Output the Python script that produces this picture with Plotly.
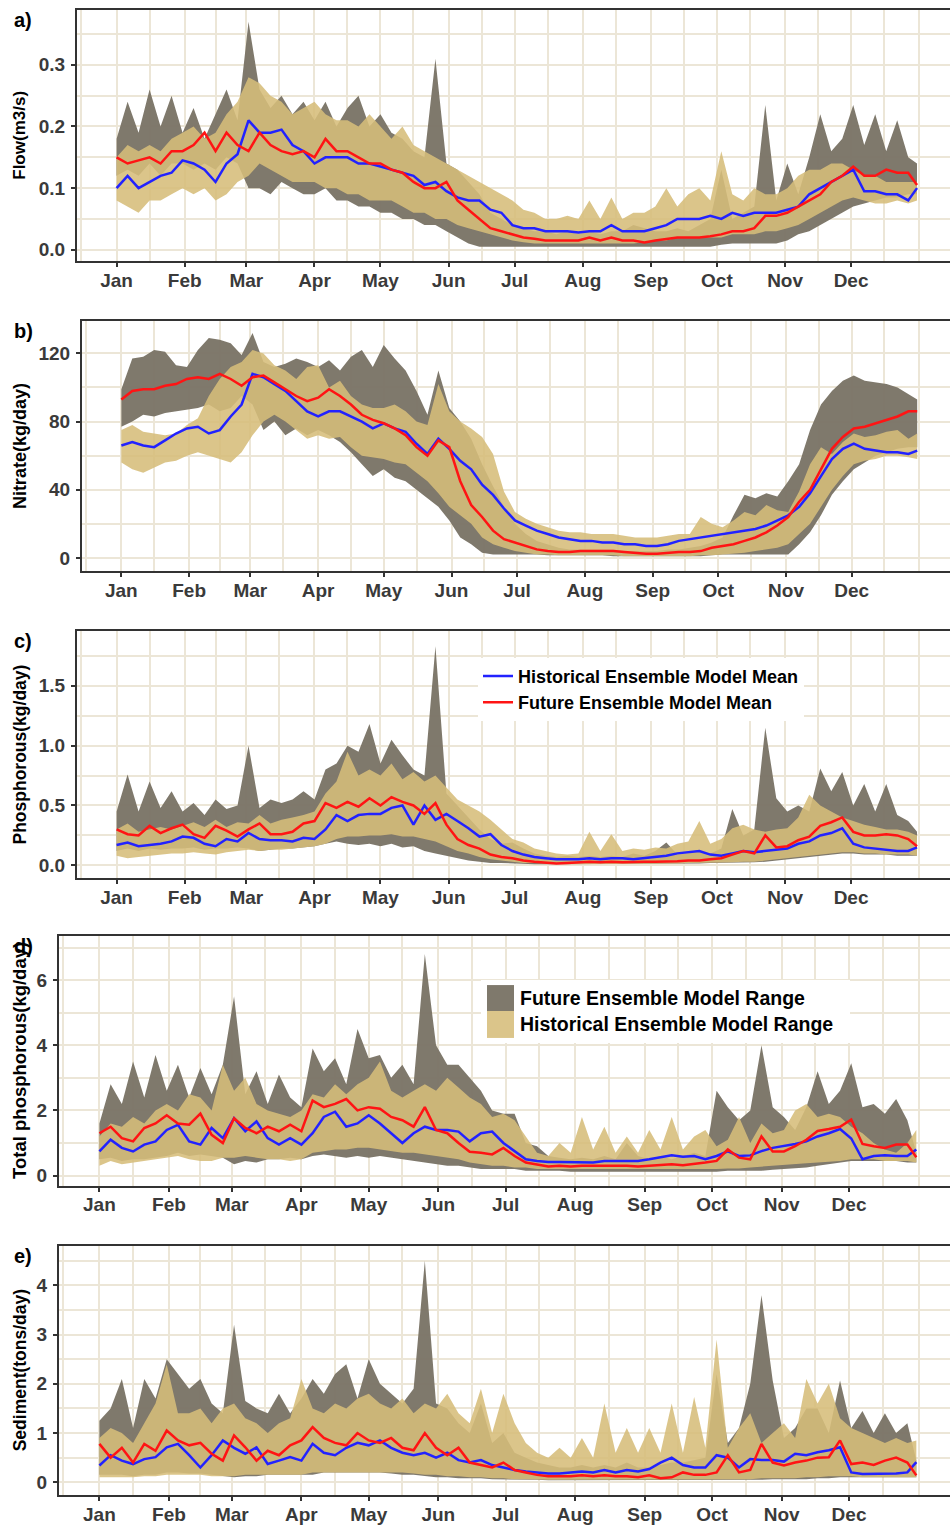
import plotly.graph_objects as go

# ---------------- data (day-of-year samples) ----------------
DAYS = [1, 6, 11, 16, 21, 26, 31, 36, 41, 46, 51, 56, 61, 66, 71, 76, 81, 86,
        91, 96, 101, 106, 111, 116, 121, 126, 131, 136, 141, 146, 151, 156, 161, 166, 171, 176,
        181, 186, 191, 196, 201, 206, 211, 216, 221, 226, 231, 236, 241, 246, 251, 256, 261, 266,
        271, 276, 281, 286, 291, 296, 301, 306, 311, 316, 321, 326, 331, 336, 341, 346, 351, 356,
        361, 365]
MONTH_STARTS = [1, 32, 60, 91, 121, 152, 182, 213, 244, 274, 305, 335]
MONTH_LABELS = ["Jan", "Feb", "Mar", "Apr", "May", "Jun", "Jul", "Aug", "Sep", "Oct", "Nov", "Dec"]

# a) Flow (m3/s)
FLOW_FUT_UP = [0.18,0.24,0.19,0.26,0.20,0.25, 0.19,0.23,0.18,0.22,0.26,0.21, 0.37,0.26,0.23,0.25,0.22,0.24,
               0.21,0.24,0.20,0.23,0.25,0.20, 0.22,0.19,0.18,0.16,0.15,0.31, 0.14,0.13,0.11,0.09,0.06,0.05,
               0.04,0.035,0.03,0.03,0.025,0.03, 0.025,0.03,0.025,0.03,0.03,0.04, 0.035,0.03,0.03,0.035,0.03,0.04,
               0.05,0.13,0.05,0.06,0.07,0.235, 0.08,0.14,0.09,0.15,0.22,0.16, 0.18,0.235,0.17,0.22,0.16,0.21,
               0.15,0.14]
FLOW_FUT_LO = [0.12,0.13,0.12,0.14,0.12,0.14, 0.14,0.13,0.14,0.13,0.15,0.14, 0.10,0.10,0.09,0.11,0.10,0.09,
               0.09,0.10,0.08,0.08,0.07,0.07, 0.06,0.06,0.05,0.05,0.04,0.04, 0.03,0.02,0.01,0.005,0.005,0.005,
               0.005,0.005,0.005,0.004,0.004,0.004, 0.004,0.004,0.004,0.004,0.004,0.004, 0.004,0.004,0.005,0.005,0.005,0.005,
               0.005,0.008,0.01,0.01,0.01,0.01, 0.01,0.015,0.025,0.03,0.04,0.05, 0.06,0.07,0.075,0.08,0.085,0.085,
               0.09,0.09]
FLOW_HIST_UP = [0.15,0.17,0.16,0.17,0.16,0.18, 0.19,0.20,0.18,0.19,0.22,0.24, 0.28,0.27,0.25,0.24,0.22,0.23,
                0.24,0.22,0.21,0.21,0.20,0.22, 0.20,0.18,0.20,0.17,0.16,0.15, 0.14,0.13,0.12,0.11,0.10,0.09,
                0.08,0.065,0.06,0.05,0.05,0.055, 0.05,0.08,0.05,0.085,0.05,0.06, 0.06,0.07,0.10,0.07,0.09,0.10,
                0.08,0.16,0.09,0.08,0.10,0.09, 0.09,0.10,0.12,0.13,0.13,0.14, 0.14,0.13,0.12,0.12,0.11,0.11,
                0.11,0.11]
FLOW_HIST_LO = [0.08,0.07,0.06,0.08,0.08,0.09, 0.10,0.09,0.10,0.08,0.09,0.11, 0.12,0.14,0.13,0.12,0.11,0.11,
                0.11,0.10,0.10,0.09,0.09,0.08, 0.08,0.08,0.07,0.06,0.06,0.05, 0.05,0.04,0.035,0.03,0.025,0.02,
                0.015,0.012,0.01,0.01,0.01,0.01, 0.01,0.01,0.01,0.01,0.01,0.01, 0.012,0.015,0.015,0.02,0.02,0.02,
                0.02,0.02,0.025,0.025,0.025,0.03, 0.03,0.035,0.04,0.05,0.06,0.07, 0.08,0.085,0.08,0.075,0.075,0.08,
                0.075,0.08]
FLOW_HIST_MEAN = [0.10,0.12,0.10,0.11,0.12,0.125, 0.145,0.14,0.13,0.11,0.14,0.155, 0.21,0.19,0.19,0.195,0.17,0.16,
                  0.14,0.15,0.15,0.15,0.14,0.14, 0.135,0.13,0.125,0.12,0.105,0.11, 0.095,0.085,0.08,0.08,0.065,0.06,
                  0.04,0.035,0.035,0.03,0.03,0.03, 0.028,0.03,0.03,0.04,0.03,0.03, 0.03,0.035,0.04,0.05,0.05,0.05,
                  0.055,0.05,0.06,0.055,0.06,0.06, 0.06,0.065,0.07,0.09,0.10,0.11, 0.12,0.13,0.095,0.095,0.09,0.09,
                  0.08,0.10]
FLOW_FUT_MEAN = [0.15,0.14,0.145,0.15,0.14,0.16, 0.16,0.17,0.19,0.16,0.19,0.17, 0.16,0.19,0.17,0.16,0.155,0.16,
                 0.15,0.18,0.16,0.16,0.15,0.14, 0.14,0.13,0.125,0.11,0.10,0.10, 0.11,0.08,0.065,0.05,0.035,0.03,
                 0.025,0.02,0.018,0.015,0.015,0.015, 0.015,0.02,0.015,0.02,0.015,0.015, 0.012,0.015,0.017,0.02,0.02,0.02,
                 0.022,0.025,0.03,0.03,0.035,0.055, 0.055,0.06,0.07,0.08,0.09,0.11, 0.12,0.135,0.12,0.12,0.13,0.125,
                 0.125,0.105]

# b) Nitrate (kg/day)
NIT_FUT_UP = [99,117,118,122,121,113, 112,122,129,128,126,119, 132,115,112,114,117,115,
              112,116,110,118,122,112, 125,117,110,98,84,110, 88,80,70,55,42,30,
              20,14,10,8,6,5, 5,5,5,5,4,4, 4,4,5,5,6,7,
              9,12,25,37,35,38, 36,45,55,75,90,98, 104,107,104,103,102,100,
              96,93]
NIT_FUT_LO = [77,80,84,83,85,86, 87,88,90,86,88,95, 90,75,80,72,76,72,
              75,72,68,62,55,48, 52,47,45,40,35,30, 22,12,8,3,2,2,
              2,2,2,1.5,1.5,1.5, 1.5,1.5,1.5,1,1,1, 1,1,1,1,1,1,
              1.5,2,2,2,2,2, 2,2,8,15,25,37, 45,52,56,60,62,64,
              65,65]
NIT_HIST_UP = [75,78,74,73,72,73, 78,82,95,105,112,115, 122,120,113,110,105,112,
               113,100,104,95,90,88, 88,90,86,80,78,102, 86,80,76,71,61,39,
               27,23,20,18,16,15, 15,14,14,14,13,12, 12,12,13,14,14,24,
               20,18,22,27,25,31, 28,27,39,55,65,61, 68,73,71,72,74,75,
               70,73]
NIT_HIST_LO = [56,52,50,53,56,57, 60,62,60,58,56,62, 72,80,84,80,75,70,
               72,70,71,65,60,59, 58,56,55,50,45,38, 30,25,20,12,8,6,
               4,3,2,2,1.5,1.5, 1.5,1.5,1.5,1.5,1,1, 1,1,1,1,1,1.5,
               1.5,2,2.5,3,4,5, 6,8,14,20,30,40, 48,55,57,58,60,60,
               59,58]
NIT_HIST_MEAN = [66,68,66,65,69,73, 76,77,73,75,83,90, 108,106,102,98,92,86,
                 83,86,86,83,80,76, 79,76,74,67,61,70, 64,57,52,43,37,29,
                 22,19,16,14,12,11, 10,10,9,9,8,8, 7,7,8,10,11,12,
                 13,14,15,16,17,19, 22,25,30,38,48,58, 64,67,64,63,62,62,
                 61,63]
NIT_FUT_MEAN = [93,98,99,99,101,102, 105,106,105,108,105,101, 106,107,103,99,95,92,
                94,99,95,90,84,81, 79,76,72,65,60,69, 65,45,31,24,16,11,
                9,7,5,4,3.5,3.5, 4,4,4,4,3.5,3, 2.5,2.5,3,3.5,3.5,4,
                6,7,8,10,12,15, 19,24,33,40,52,64, 71,76,77,79,81,83,
                86,86]

# c) Phosphorous (kg/day)
PHO_FUT_UP = [0.45,0.76,0.45,0.70,0.48,0.62, 0.45,0.52,0.42,0.55,0.47,0.50, 1.00,0.48,0.55,0.52,0.55,0.62,
              0.55,0.80,0.85,1.00,0.95,1.18, 0.85,1.05,0.92,0.80,0.75,1.83, 0.60,0.50,0.40,0.30,0.22,0.18,
              0.19,0.14,0.10,0.08,0.07,0.08, 0.07,0.08,0.07,0.08,0.07,0.10, 0.08,0.12,0.19,0.09,0.10,0.12,
              0.10,0.14,0.47,0.25,0.30,1.15, 0.56,0.45,0.50,0.45,0.81,0.62, 0.78,0.50,0.68,0.45,0.68,0.42,
              0.37,0.28]
PHO_FUT_LO = [0.12,0.14,0.12,0.14,0.13,0.14, 0.14,0.15,0.13,0.14,0.14,0.15, 0.14,0.12,0.13,0.14,0.14,0.15,
              0.16,0.18,0.20,0.18,0.17,0.18, 0.16,0.18,0.15,0.16,0.12,0.10, 0.08,0.06,0.04,0.03,0.02,0.02,
              0.015,0.01,0.01,0.01,0.01,0.01, 0.01,0.01,0.01,0.01,0.01,0.01, 0.01,0.01,0.015,0.015,0.015,0.015,
              0.02,0.02,0.02,0.02,0.025,0.03, 0.04,0.05,0.06,0.07,0.08,0.09, 0.10,0.10,0.09,0.09,0.09,0.08,
              0.08,0.08]
PHO_HIST_UP = [0.30,0.35,0.28,0.30,0.32,0.30, 0.33,0.36,0.32,0.38,0.32,0.36, 0.35,0.42,0.35,0.38,0.40,0.42,
               0.45,0.60,0.70,0.95,0.75,0.80, 0.75,0.85,0.72,0.78,0.70,0.75, 0.65,0.55,0.50,0.45,0.38,0.30,
               0.22,0.19,0.14,0.12,0.10,0.09, 0.10,0.28,0.12,0.26,0.12,0.14, 0.13,0.15,0.14,0.18,0.20,0.37,
               0.18,0.22,0.31,0.34,0.30,0.28, 0.30,0.31,0.40,0.59,0.50,0.45, 0.40,0.37,0.34,0.32,0.30,0.30,
               0.28,0.25]
PHO_HIST_LO = [0.08,0.06,0.07,0.08,0.09,0.10, 0.10,0.11,0.10,0.09,0.11,0.12, 0.13,0.12,0.13,0.13,0.14,0.15,
               0.16,0.18,0.22,0.24,0.24,0.25, 0.25,0.26,0.24,0.24,0.22,0.20, 0.16,0.12,0.10,0.07,0.05,0.04,
               0.03,0.02,0.02,0.015,0.01,0.01, 0.01,0.01,0.01,0.01,0.01,0.01, 0.01,0.015,0.015,0.015,0.02,0.02,
               0.02,0.02,0.025,0.03,0.03,0.04, 0.05,0.06,0.07,0.08,0.09,0.10, 0.11,0.11,0.10,0.10,0.09,0.09,
               0.09,0.08]
PHO_HIST_MEAN = [0.17,0.19,0.16,0.17,0.18,0.20, 0.24,0.23,0.18,0.16,0.22,0.20, 0.27,0.22,0.21,0.21,0.20,0.23,
                 0.22,0.30,0.42,0.37,0.42,0.43, 0.43,0.48,0.50,0.34,0.50,0.38, 0.43,0.37,0.31,0.24,0.26,0.17,
                 0.12,0.09,0.07,0.06,0.05,0.05, 0.05,0.06,0.05,0.06,0.06,0.05, 0.06,0.07,0.08,0.10,0.11,0.12,
                 0.09,0.08,0.10,0.12,0.11,0.12, 0.13,0.14,0.18,0.20,0.25,0.27, 0.31,0.18,0.15,0.14,0.13,0.12,
                 0.12,0.15]
PHO_FUT_MEAN = [0.30,0.26,0.25,0.33,0.27,0.31, 0.34,0.26,0.23,0.33,0.29,0.24, 0.30,0.35,0.26,0.26,0.28,0.35,
                0.37,0.52,0.48,0.53,0.49,0.56, 0.50,0.57,0.53,0.50,0.43,0.52, 0.34,0.22,0.17,0.14,0.09,0.07,
                0.06,0.04,0.03,0.02,0.015,0.02, 0.025,0.03,0.025,0.03,0.025,0.03, 0.03,0.03,0.03,0.035,0.04,0.04,
                0.05,0.06,0.09,0.12,0.10,0.25, 0.15,0.16,0.21,0.24,0.33,0.36, 0.40,0.28,0.25,0.25,0.26,0.25,
                0.22,0.16]

# d) Total phosphorous (kg/day)
TP_FUT_UP = [1.6,2.8,2.2,3.5,2.4,3.7, 2.6,3.4,2.4,3.3,2.5,3.4, 5.5,2.5,3.2,2.2,3.1,2.4,
             2.1,3.9,3.2,3.6,2.8,4.5, 3.6,3.7,3.0,3.4,2.8,6.8, 4.0,3.4,3.4,3.0,2.6,2.0,
             1.9,1.9,1.0,0.9,0.6,0.55, 0.5,0.55,0.5,0.6,0.5,1.0, 0.6,0.5,0.6,0.5,0.6,0.7,
             0.6,2.6,2.1,1.7,2.0,4.0, 2.1,1.8,1.4,2.1,3.2,2.2, 2.6,3.45,2.1,2.2,1.9,2.35,
             1.7,0.7]
TP_FUT_LO = [0.5,0.55,0.45,0.5,0.5,0.55, 0.6,0.7,0.6,0.65,0.6,0.55, 0.35,0.45,0.4,0.5,0.5,0.55,
             0.5,0.6,0.65,0.6,0.55,0.6, 0.55,0.6,0.55,0.5,0.45,0.4, 0.35,0.3,0.3,0.25,0.2,0.2,
             0.2,0.2,0.15,0.15,0.15,0.15, 0.12,0.12,0.12,0.12,0.12,0.12, 0.12,0.12,0.12,0.12,0.12,0.12,
             0.12,0.12,0.15,0.15,0.15,0.15, 0.18,0.2,0.22,0.25,0.3,0.35, 0.4,0.45,0.45,0.45,0.45,0.45,
             0.4,0.4]
TP_HIST_UP = [1.2,1.6,1.5,1.8,1.6,2.0, 2.2,2.0,2.5,2.4,2.0,3.4, 2.6,3.0,2.2,2.0,1.9,1.8,
              2.0,2.5,2.4,2.8,2.5,2.8, 3.0,3.5,2.6,2.4,2.6,2.8, 2.6,3.0,2.7,2.4,2.2,1.8,
              1.9,1.7,1.2,0.7,0.6,1.0, 0.7,1.8,0.8,1.5,0.7,1.2, 0.7,1.4,0.8,1.8,0.8,1.2,
              1.4,0.9,1.1,1.8,1.0,1.6, 1.3,1.4,2.0,2.2,1.8,1.9, 1.8,1.5,1.3,1.0,0.8,0.7,
              1.0,1.4]
TP_HIST_LO = [0.3,0.45,0.35,0.4,0.45,0.5, 0.55,0.6,0.5,0.45,0.45,0.55, 0.55,0.6,0.55,0.5,0.5,0.45,
              0.5,0.7,0.75,0.8,0.8,0.85, 0.85,0.8,0.75,0.7,0.7,0.65, 0.6,0.55,0.5,0.4,0.35,0.3,
              0.3,0.25,0.25,0.2,0.2,0.2, 0.18,0.18,0.18,0.18,0.18,0.18, 0.18,0.18,0.18,0.18,0.18,0.2,
              0.2,0.2,0.22,0.22,0.25,0.28, 0.3,0.32,0.35,0.38,0.4,0.42, 0.45,0.5,0.5,0.5,0.45,0.45,
              0.45,0.4]
TP_HIST_MEAN = [0.74,1.1,0.85,0.74,0.95,1.05, 1.4,1.56,1.05,0.95,1.46,1.15, 1.76,1.36,1.66,1.15,0.95,1.15,
                0.95,1.3,1.8,1.96,1.5,1.6, 1.85,1.6,1.3,1.0,1.3,1.5, 1.4,1.4,1.35,1.05,1.3,1.35,
                1.0,0.74,0.5,0.45,0.42,0.42, 0.42,0.4,0.4,0.45,0.45,0.45, 0.45,0.5,0.55,0.62,0.58,0.6,
                0.5,0.6,0.74,0.6,0.62,0.75, 0.85,0.9,0.97,1.05,1.2,1.3, 1.43,1.14,0.5,0.6,0.62,0.6,
                0.6,0.8]
TP_FUT_MEAN = [1.3,1.5,1.15,1.05,1.46,1.6, 1.85,1.6,1.56,1.9,1.25,1.0, 1.76,1.46,1.3,1.5,1.36,1.56,
               1.36,2.3,2.1,2.2,2.35,2.0, 2.1,2.05,1.8,1.7,1.5,2.1, 1.4,1.3,1.0,0.73,0.7,0.65,
               0.85,0.6,0.4,0.35,0.28,0.3, 0.28,0.3,0.3,0.32,0.32,0.3, 0.28,0.3,0.32,0.35,0.32,0.35,
               0.4,0.45,0.8,0.55,0.5,1.2, 0.74,0.74,0.9,1.1,1.37,1.43, 1.5,1.72,0.97,0.9,0.85,0.95,
               0.95,0.56]

# e) Sediment (tons/day)
SED_FUT_UP = [1.25,1.5,2.1,1.1,2.1,1.7, 2.5,2.2,1.9,2.1,1.6,1.4, 3.2,1.65,1.5,1.4,1.8,1.4,
              1.7,2.1,1.8,2.2,2.4,1.7, 2.5,2.0,1.8,1.6,1.9,4.5, 1.6,1.5,1.2,1.0,1.6,0.8,
              1.0,0.6,0.5,0.4,0.35,0.3, 0.3,0.35,0.3,0.35,0.3,0.4, 0.3,0.3,0.35,0.4,0.4,0.45,
              0.5,2.2,0.8,1.1,2.0,3.8, 2.07,0.9,1.1,1.5,1.5,1.0, 2.07,1.1,1.45,1.0,1.4,1.0,
              1.2,0.44]
SED_FUT_LO = [0.15,0.15,0.15,0.12,0.15,0.15, 0.2,0.2,0.18,0.18,0.15,0.12, 0.1,0.12,0.12,0.15,0.15,0.15,
              0.15,0.15,0.2,0.2,0.2,0.2, 0.2,0.2,0.18,0.15,0.15,0.12, 0.1,0.1,0.08,0.08,0.08,0.06,
              0.06,0.05,0.05,0.05,0.04,0.04, 0.04,0.04,0.04,0.04,0.04,0.04, 0.04,0.04,0.04,0.04,0.04,0.04,
              0.05,0.05,0.05,0.05,0.05,0.05, 0.06,0.06,0.06,0.06,0.08,0.08, 0.1,0.1,0.1,0.1,0.1,0.1,
              0.1,0.1]
SED_HIST_UP = [0.9,1.1,1.0,0.8,1.2,1.6, 2.4,1.4,1.4,1.5,1.2,1.5, 1.6,1.3,1.2,1.0,1.2,1.3,
               2.1,1.5,1.4,1.6,1.5,1.7, 1.8,1.6,1.5,1.7,1.4,1.6, 1.5,1.8,1.4,1.2,1.9,1.0,
               1.8,1.2,0.8,0.6,0.5,0.7, 0.5,0.9,0.5,1.6,0.6,1.1, 0.6,1.1,0.6,1.6,0.6,1.73,
               0.7,2.9,0.7,1.1,1.4,0.8, 1.0,1.2,0.9,2.1,1.6,2.0, 1.3,1.1,1.0,0.9,0.8,0.9,
               0.8,0.85]
SED_HIST_LO = [0.1,0.1,0.1,0.1,0.12,0.12, 0.15,0.15,0.15,0.15,0.12,0.12, 0.12,0.15,0.15,0.15,0.15,0.15,
               0.15,0.2,0.2,0.2,0.2,0.2, 0.2,0.2,0.2,0.2,0.18,0.15, 0.15,0.12,0.12,0.1,0.1,0.08,
               0.08,0.06,0.06,0.05,0.05,0.05, 0.05,0.05,0.05,0.05,0.05,0.05, 0.05,0.05,0.05,0.05,0.05,0.05,
               0.06,0.06,0.06,0.06,0.06,0.08, 0.08,0.08,0.08,0.1,0.1,0.12, 0.12,0.12,0.1,0.1,0.1,0.1,
               0.1,0.1]
SED_HIST_MEAN = [0.34,0.55,0.44,0.37,0.47,0.51, 0.71,0.78,0.55,0.3,0.55,0.85, 0.7,0.58,0.71,0.37,0.44,0.51,
                 0.44,0.78,0.6,0.55,0.7,0.8, 0.75,0.85,0.7,0.6,0.55,0.6, 0.5,0.6,0.45,0.4,0.45,0.35,
                 0.3,0.25,0.22,0.2,0.18,0.18, 0.2,0.22,0.2,0.25,0.2,0.25, 0.22,0.27,0.4,0.5,0.35,0.3,
                 0.3,0.55,0.5,0.3,0.47,0.45, 0.45,0.42,0.58,0.55,0.61,0.65, 0.71,0.2,0.17,0.17,0.17,0.18,
                 0.2,0.41]
SED_FUT_MEAN = [0.78,0.5,0.7,0.4,0.78,0.64, 1.05,0.85,0.75,0.8,0.58,0.44, 0.95,0.71,0.44,0.64,0.55,0.75,
                0.85,1.12,0.9,0.8,0.75,1.0, 0.85,0.8,0.9,0.7,0.65,1.0, 0.7,0.55,0.7,0.4,0.35,0.3,
                0.4,0.25,0.2,0.15,0.12,0.12, 0.12,0.14,0.12,0.14,0.12,0.12, 0.1,0.14,0.08,0.1,0.2,0.15,
                0.15,0.2,0.55,0.2,0.25,0.78, 0.4,0.34,0.4,0.44,0.5,0.51, 0.85,0.37,0.4,0.35,0.44,0.5,
                0.4,0.14]

# ---------------- styling / layout ----------------
W, H = 950, 1525
FONT = "Liberation Sans, Arial, sans-serif"
GRAY = "rgba(122,116,102,0.96)"
TAN = "rgba(214,189,122,0.88)"
BLUE = "#2222ff"
RED = "#ff1414"
GRID = "#ece6d7"
AXIS = "#333333"

X_MINOR = [-15, 16, 46, 75, 106, 136, 167, 197, 228, 259, 289, 320, 350, 366, 381]

panels = [
    dict(label="a)", title="Flow(m3/s)", tsize=17, px=(77, 10, 950, 262), yr=[-0.019, 0.389],
         yt=[0, 0.1, 0.2, 0.3], ytt=["0.0", "0.1", "0.2", "0.3"], ym=[0.05, 0.15, 0.25, 0.35],
         s=(FLOW_FUT_UP, FLOW_FUT_LO, FLOW_HIST_UP, FLOW_HIST_LO, FLOW_HIST_MEAN, FLOW_FUT_MEAN)),
    dict(label="b)", title="Nitrate(kg/day)", tsize=18, px=(82, 322, 950, 572), yr=[-7.6, 138.8],
         yt=[0, 40, 80, 120], ytt=["0", "40", "80", "120"], ym=[20, 60, 100],
         s=(NIT_FUT_UP, NIT_FUT_LO, NIT_HIST_UP, NIT_HIST_LO, NIT_HIST_MEAN, NIT_FUT_MEAN)),
    dict(label="c)", title="Phosphorous(kg/day)", tsize=17.5, px=(77, 632, 950, 880), yr=[-0.108, 1.96],
         yt=[0, 0.5, 1.0, 1.5], ytt=["0.0", "0.5", "1.0", "1.5"], ym=[0.25, 0.75, 1.25, 1.75],
         s=(PHO_FUT_UP, PHO_FUT_LO, PHO_HIST_UP, PHO_HIST_LO, PHO_HIST_MEAN, PHO_FUT_MEAN)),
    dict(label="d)", title="Total phosphorous(kg/day)", tsize=18.5, px=(59, 938, 950, 1188), yr=[-0.31, 7.35],
         yt=[0, 2, 4, 6], ytt=["0", "2", "4", "6"], ym=[1, 3, 5, 7],
         s=(TP_FUT_UP, TP_FUT_LO, TP_HIST_UP, TP_HIST_LO, TP_HIST_MEAN, TP_FUT_MEAN)),
    dict(label="e)", title="Sediment(tons/day)", tsize=17.5, px=(59, 1248, 950, 1498), yr=[-0.26, 4.81],
         yt=[0, 1, 2, 3, 4], ytt=["0", "1", "2", "3", "4"], ym=[0.5, 1.5, 2.5, 3.5, 4.5],
         s=(SED_FUT_UP, SED_FUT_LO, SED_HIST_UP, SED_HIST_LO, SED_HIST_MEAN, SED_FUT_MEAN)),
]


def px2x(v):
    return v / W


def px2y(v):
    return 1 - v / H


fig = go.Figure()
layout = dict(width=W, height=H, margin=dict(l=0, r=0, t=0, b=0), autosize=False,
              paper_bgcolor="white", plot_bgcolor="white", font=dict(family=FONT),
              annotations=[], shapes=[])

tickfont = dict(family=FONT, size=19, color="#3a3a3a", weight="bold")

for i, p in enumerate(panels, start=1):
    xs = "x" if i == 1 else f"x{i}"
    ys = "y" if i == 1 else f"y{i}"
    fu, fl, hu, hl, hm, fm = p["s"]
    show = (i == 3)
    common = dict(x=DAYS, xaxis=xs, yaxis=ys, hoverinfo="skip")
    fig.add_trace(go.Scatter(y=fl, mode="lines", line=dict(width=0, color=GRAY), showlegend=False, **common))
    fig.add_trace(go.Scatter(y=fu, mode="lines", line=dict(width=0, color=GRAY), fill="tonexty",
                             fillcolor=GRAY, showlegend=False, **common))
    fig.add_trace(go.Scatter(y=hl, mode="lines", line=dict(width=0, color=TAN), showlegend=False, **common))
    fig.add_trace(go.Scatter(y=hu, mode="lines", line=dict(width=0, color=TAN), fill="tonexty",
                             fillcolor=TAN, showlegend=False, **common))
    fig.add_trace(go.Scatter(y=hm, mode="lines", line=dict(width=2.5, color=BLUE),
                             name="Historical Ensemble Model Mean", showlegend=show, **common))
    fig.add_trace(go.Scatter(y=fm, mode="lines", line=dict(width=2.5, color=RED),
                             name="Future Ensemble Model Mean", showlegend=show, **common))

    x0, y0, x1, y1 = p["px"]
    xa = "xaxis" if i == 1 else f"xaxis{i}"
    yaxn = "yaxis" if i == 1 else f"yaxis{i}"
    layout[xa] = dict(domain=[px2x(x0), px2x(x1)], range=[-17, 380], anchor=ys,
                      tickmode="array", tickvals=MONTH_STARTS, ticktext=MONTH_LABELS,
                      ticks="outside", ticklen=4, tickwidth=1.5, tickcolor=AXIS,
                      ticklabelstandoff=-3,
                      showline=True, linecolor=AXIS, linewidth=2, mirror=True,
                      showgrid=True, gridcolor=GRID, gridwidth=1.6, zeroline=False,
                      minor=dict(tickmode="array", tickvals=X_MINOR, showgrid=True,
                                 gridcolor=GRID, gridwidth=1.6, ticks=""),
                      tickfont=tickfont)
    layout[yaxn] = dict(domain=[px2y(y1), px2y(y0)], range=p["yr"], anchor=xs,
                        tickmode="array", tickvals=p["yt"], ticktext=p["ytt"],
                        ticks="outside", ticklen=4, tickwidth=1.5, tickcolor=AXIS,
                        ticklabelstandoff=2,
                        showline=True, linecolor=AXIS, linewidth=2,
                        showgrid=True, gridcolor=GRID, gridwidth=1.6, zeroline=False,
                        minor=dict(tickmode="array", tickvals=p["ym"], showgrid=True,
                                   gridcolor=GRID, gridwidth=1.6, ticks=""),
                        tickfont=tickfont)
    # panel letter
    layout["annotations"].append(dict(text=f"<b>{p['label']}</b>", x=px2x(12), y=px2y(y0 - 3),
                                      xref="paper", yref="paper", xanchor="left", yanchor="top",
                                      showarrow=False, font=dict(family=FONT, size=20, color="black")))
    # y axis title
    layout["annotations"].append(dict(text=f"<b>{p['title']}</b>", x=px2x(20), y=px2y((y0 + y1) / 2),
                                      xref="paper", yref="paper", xanchor="center", yanchor="middle",
                                      textangle=-90, showarrow=False,
                                      font=dict(family=FONT, size=p["tsize"], color="black")))

# legend for the mean lines (panel c)
layout["legend"] = dict(x=px2x(478), y=px2y(659), xanchor="left", yanchor="top",
                        bgcolor="white", borderwidth=0, tracegroupgap=0, traceorder="normal",
                        font=dict(family=FONT, size=18, color="black", weight="bold"))

# legend for the ensemble ranges (panel d) drawn as key boxes + text
layout["shapes"] += [
    dict(type="rect", xref="paper", yref="paper", x0=px2x(481), x1=px2x(850), y0=px2y(1045), y1=px2y(982),
         fillcolor="white", line=dict(width=0), layer="above"),
    dict(type="rect", xref="paper", yref="paper", x0=px2x(487), x1=px2x(514), y0=px2y(1013), y1=px2y(987),
         fillcolor=GRAY, line=dict(width=0), layer="above"),
    dict(type="rect", xref="paper", yref="paper", x0=px2x(487), x1=px2x(514), y0=px2y(1040), y1=px2y(1013),
         fillcolor=TAN, line=dict(width=0), layer="above"),
]
for txt, yy in [("Future Ensemble Model Range", 1000), ("Historical Ensemble Model Range", 1026)]:
    layout["annotations"].append(dict(text=f"<b>{txt}</b>", x=px2x(518), y=px2y(yy), xref="paper", yref="paper",
                                      xanchor="left", yanchor="middle", showarrow=False,
                                      font=dict(family=FONT, size=19.5, color="black")))

fig.update_layout(**layout)
fig.write_html("out.html")
